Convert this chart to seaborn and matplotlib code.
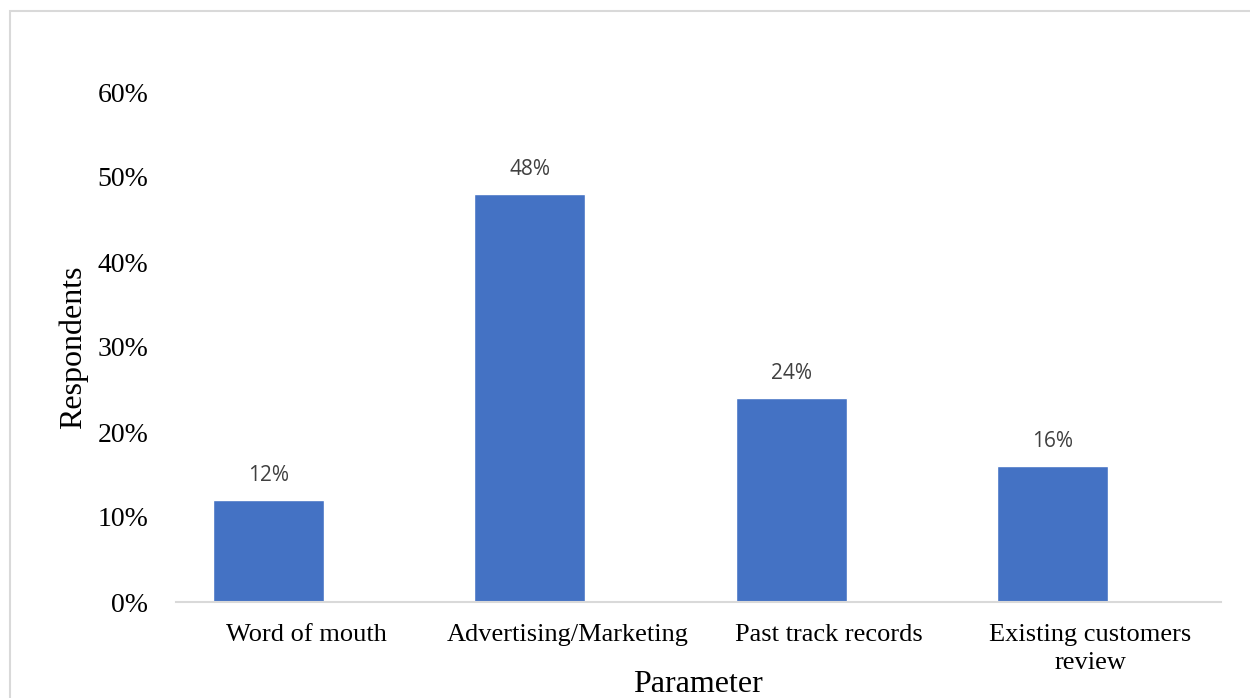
import matplotlib
matplotlib.use("Agg")
import matplotlib.pyplot as plt
from matplotlib.patches import Rectangle
from matplotlib.ticker import PercentFormatter
import seaborn as sns
import pandas as pd

categories = ["Word of mouth", "Advertising/Marketing", "Past track records",
              "Existing customers\nreview"]
respondents = [0.12, 0.48, 0.24, 0.16]
y_ticks = [0.0, 0.1, 0.2, 0.3, 0.4, 0.5, 0.6]

df = pd.DataFrame({"Parameter": categories, "Respondents": respondents})

sns.set_theme(style="white")
plt.rcParams["font.family"] = ["Liberation Serif", "DejaVu Serif"]
plt.rcParams["text.color"] = "black"
plt.rcParams["axes.labelcolor"] = "black"
plt.rcParams["xtick.color"] = "black"
plt.rcParams["ytick.color"] = "black"

W, H = 1250, 698
fig = plt.figure(figsize=(W / 100, H / 100), dpi=100)
fig.patch.set_facecolor("white")

# outer chart frame
fig.patches.append(Rectangle((10 / W, -0.1), 1.2, 1 - 11 / H + 0.1,
                             transform=fig.transFigure, fill=False,
                             edgecolor="#d9d9d9", linewidth=1.5))

left, right, top, bottom = 176, 1221, 92, 602
ax = fig.add_axes([left / W, 1 - bottom / H, (right - left) / W, (bottom - top) / H])

sns.barplot(data=df, x="Parameter", y="Respondents", color="#4472C4",
            saturation=1, width=0.425, ax=ax)

ax.set_xlim(-0.354, 3.645)
ax.set_ylim(0, 0.6)
ax.set_yticks(y_ticks)
ax.yaxis.set_major_formatter(PercentFormatter(1.0, decimals=0))

# category labels sit at the centre of each category band; bars are offset left
band_shift = 0.146
ax.set_xticks([i + band_shift for i in range(len(categories))])
ax.set_xticklabels(categories)

ax.tick_params(axis="y", labelsize=20, pad=20, length=0, colors="black")
ax.tick_params(axis="x", labelsize=19, pad=16, length=0, colors="black")
for lbl in ax.get_xticklabels():
    lbl.set_linespacing(1.32)

for side in ["top", "right", "left"]:
    ax.spines[side].set_visible(False)
ax.spines["bottom"].set_color("#d9d9d9")
ax.spines["bottom"].set_linewidth(1.5)

for i, v in enumerate(respondents):
    ax.annotate(f"{v:.0%}", (i, v), xytext=(0, 10), textcoords="offset points",
                ha="center", va="bottom", fontsize=15, color="#404040",
                family=["Open Sans", "DejaVu Sans"])

ax.set_xlabel("Parameter", fontsize=23, color="black")
ax.set_ylabel("Respondents", fontsize=23, color="black")
ax.xaxis.set_label_coords((698 - left) / (right - left), -(685 - bottom) / (bottom - top))
ax.xaxis.label.set_va("center")
ax.yaxis.set_label_coords(-(176 - 73) / (right - left), (bottom - 347) / (bottom - top))
ax.yaxis.label.set_va("center")

fig.savefig("out.png", dpi=100, facecolor="white")
